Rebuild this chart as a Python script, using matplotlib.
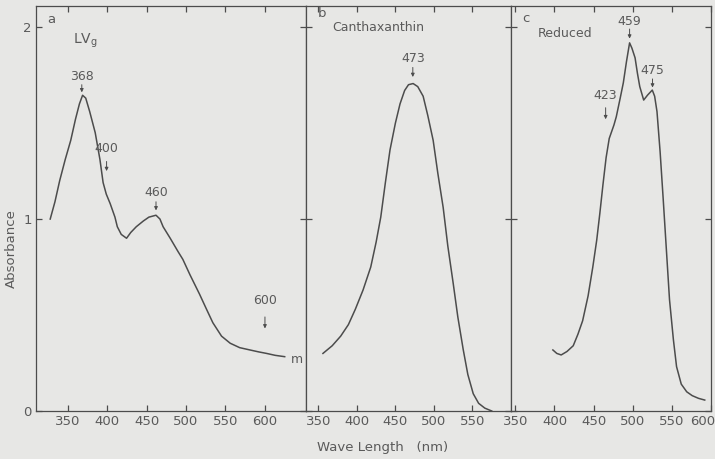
import numpy as np
import matplotlib
matplotlib.use("Agg")
import matplotlib.pyplot as plt
import matplotlib.transforms as mtransforms

# panel a : LVg
wl_a = [328, 334, 340, 347, 354, 360, 365, 369, 373, 378, 385, 391, 395, 399, 404, 410, 413, 418,
        424.7, 430, 437, 446, 453, 462, 467, 471, 480, 490, 496, 505, 517, 526, 534, 545, 556,
        568, 581, 592, 602, 613, 625]
abs_a = [1.00, 1.09, 1.20, 1.31, 1.41, 1.52, 1.60, 1.645, 1.63, 1.56, 1.45, 1.31, 1.19, 1.13, 1.08,
         1.01, 0.96, 0.92, 0.90, 0.93, 0.96, 0.99, 1.01, 1.02, 1.00, 0.96, 0.90, 0.83, 0.79, 0.71,
         0.61, 0.53, 0.46, 0.39, 0.353, 0.33, 0.318, 0.308, 0.30, 0.29, 0.283]

# panel b : canthaxanthin
wl_b = [356, 368, 379, 389, 398, 408, 418, 425, 431, 437, 443, 450, 456, 462, 467, 473, 479, 486,
        492, 499, 505, 512, 518, 525, 531, 538, 544, 551, 558, 566, 575]
abs_b = [0.30, 0.34, 0.39, 0.45, 0.53, 0.63, 0.75, 0.88, 1.01, 1.19, 1.36, 1.50, 1.60, 1.67, 1.70,
         1.706, 1.69, 1.64, 1.54, 1.41, 1.24, 1.06, 0.86, 0.665, 0.49, 0.32, 0.19, 0.09, 0.04,
         0.015, 0.0]

# panel c : reduced
wl_c = [398, 403, 408.6, 416, 424, 430, 436, 443, 449, 454, 458, 462, 466, 470, 473, 476, 479, 484,
        488, 492, 496, 499, 503, 506, 509, 514, 519, 525, 528, 531, 535, 539, 543, 547, 552, 556,
        562, 569, 576, 584, 592]
abs_c = [0.318, 0.30, 0.292, 0.31, 0.34, 0.40, 0.47, 0.60, 0.75, 0.89, 1.03, 1.18, 1.32, 1.42, 1.455,
         1.49, 1.533, 1.63, 1.71, 1.82, 1.918, 1.89, 1.84, 1.76, 1.69, 1.62, 1.646, 1.672, 1.64,
         1.56, 1.35, 1.10, 0.84, 0.58, 0.37, 0.231, 0.14, 0.10, 0.08, 0.066, 0.057]

xticks = [350, 400, 450, 500, 550, 600]
yticks = [0, 1, 2]

ink = "#4c4c4c"
txt = "#5a5a5a"
bg = "#e7e7e5"
plt.rcParams["font.family"] = "DejaVu Sans"

fig = plt.figure(figsize=(7.15, 4.59), dpi=100, facecolor=bg)
W, H = 715.0, 459.0
top, bot = 6, 411
ax_a = fig.add_axes([36 / W, 1 - bot / H, (306 - 36) / W, (bot - top) / H])
ax_b = fig.add_axes([306 / W, 1 - bot / H, (511 - 306) / W, (bot - top) / H])
ax_c = fig.add_axes([511 / W, 1 - bot / H, (711 - 511) / W, (bot - top) / H])

lims = [(310, 652), (334, 600), (344.5, 600)]
for ax, xl in zip([ax_a, ax_b, ax_c], lims):
    ax.set_facecolor(bg)
    ax.set_xlim(*xl)
    ax.set_ylim(0, 2.11)
    ax.set_xticks([t for t in xticks if xl[0] < t <= xl[1] - 1])
    ax.set_yticks(yticks)
    ax.tick_params(direction="in", length=4, width=0.9, color=ink, labelcolor=txt,
                   labelsize=9.5, top=True, right=True, pad=3)
    for s in ax.spines.values():
        s.set_color(ink)
        s.set_linewidth(0.9)
ax_b.set_yticklabels([])
ax_c.set_yticklabels([])
ax_c.set_xticks(xticks)
# keep the last label of panel c inside the picture
fig.canvas.draw()
last = ax_c.get_xticklabels()[-1]
last.set_transform(last.get_transform() + mtransforms.ScaledTranslation(-8 / 100, 0, fig.dpi_scale_trans))

kw = dict(color=ink, lw=1.1)
ax_a.plot(wl_a, abs_a, **kw)
ax_b.plot(wl_b, abs_b, **kw)
ax_c.plot(wl_c, abs_c, **kw)

ax_a.set_ylabel("Absorbance", color=txt, fontsize=9.5)
ax_a.yaxis.set_label_coords(-0.066, 0.40)
fig.text(383 / W, 1 - 447 / H, "Wave Length   (nm)", color=txt, fontsize=9.5,
         ha="center", va="center")


def mark(ax, x, ytxt, y0, y1, label):
    ax.text(x, ytxt, label, color=txt, fontsize=9, ha="center", va="center")
    ax.annotate("", xy=(x, y1), xytext=(x, y0),
                arrowprops=dict(arrowstyle="-|>", color=ink, lw=0.7,
                                mutation_scale=5, shrinkA=0, shrinkB=0))


mark(ax_a, 368, 1.745, 1.70, 1.66, "368")
mark(ax_a, 399.4, 1.37, 1.30, 1.25, "400")
mark(ax_a, 462, 1.137, 1.09, 1.045, "460")
mark(ax_a, 600, 0.578, 0.49, 0.43, "600")
ax_a.text(633, 0.27, "m", color=txt, fontsize=9, ha="left", va="center")
ax_a.text(329, 2.04, "a", color=txt, fontsize=9.5, ha="center", va="center")
ax_a.text(372, 1.93, "LV$_\\mathregular{g}$", color=txt, fontsize=10, ha="center", va="center")

mark(ax_b, 472.6, 1.837, 1.79, 1.74, "473")
ax_b.text(355, 2.07, "b", color=txt, fontsize=9.5, ha="center", va="center")
ax_b.text(428, 2.0, "Canthaxanthin", color=txt, fontsize=9, ha="center", va="center")

mark(ax_c, 496, 2.03, 1.99, 1.94, "459")
mark(ax_c, 525.3, 1.776, 1.73, 1.685, "475")
mark(ax_c, 465.4, 1.646, 1.58, 1.52, "423")
ax_c.text(364, 2.045, "c", color=txt, fontsize=9.5, ha="center", va="center")
ax_c.text(413, 1.967, "Reduced", color=txt, fontsize=9, ha="center", va="center")

fig.savefig("out.png", dpi=100, facecolor=bg)
